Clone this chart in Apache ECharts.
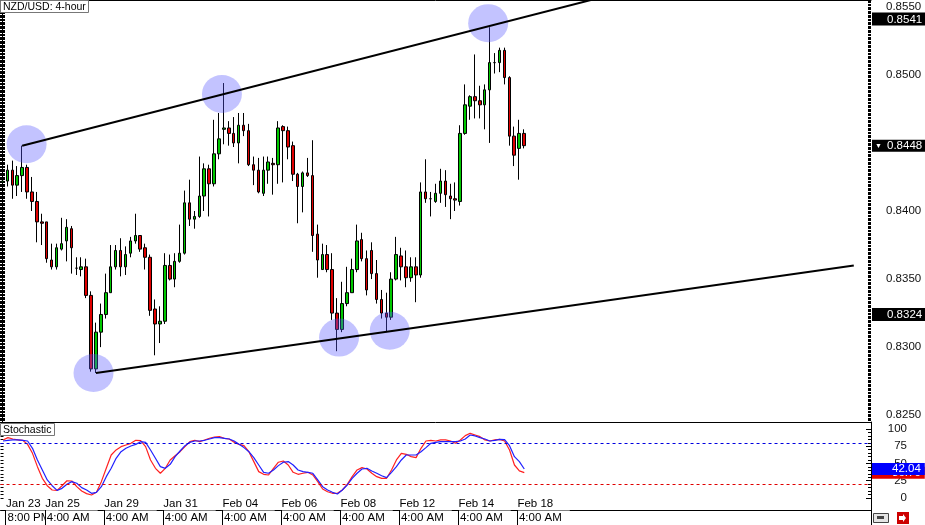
<!DOCTYPE html>
<html><head><meta charset="utf-8">
<script src="https://cdn.jsdelivr.net/npm/echarts@6/dist/echarts.min.js"></script>
<style>html,body{margin:0;padding:0;background:#fff}#c{width:925px;height:525px}</style>
</head><body><div id="c"></div>
<script>
// ---- candle data (NZD/USD 4-hour) ----
const open  = [0.8421,0.8422,0.8430,0.8419,0.8426,0.8432,0.8414,0.8407,0.8392,0.8392,0.8364,0.8359,0.8372,0.8378,0.8387,0.8358,0.8357,0.8359,0.8338,0.8284,0.8311,0.8324,0.8340,0.8359,0.8371,0.8359,0.8369,0.8378,0.8382,0.8373,0.8366,0.8328,0.8317,0.8319,0.8360,0.8350,0.8363,0.8369,0.8406,0.8394,0.8396,0.8411,0.8431,0.8420,0.8442,0.8460,0.8461,0.8457,0.8450,0.8463,0.8459,0.8434,0.8430,0.8413,0.8430,0.8435,0.8434,0.8462,0.8459,0.8448,0.8427,0.8418,0.8428,0.8426,0.8383,0.8357,0.8368,0.8357,0.8325,0.8313,0.8332,0.8340,0.8357,0.8379,0.8365,0.8371,0.8354,0.8335,0.8325,0.8322,0.8350,0.8367,0.8359,0.8351,0.8359,0.8353,0.8414,0.8409,0.8407,0.8413,0.8422,0.8411,0.8409,0.8407,0.8457,0.8477,0.8484,0.8481,0.8478,0.8489,0.8509,0.8509,0.8518,0.8498,0.8455,0.8446,0.8457];
const close = [0.8422,0.8430,0.8419,0.8426,0.8432,0.8414,0.8407,0.8392,0.8391,0.8365,0.8359,0.8373,0.8376,0.8388,0.8373,0.8358,0.8359,0.8338,0.8284,0.8311,0.8324,0.8340,0.8359,0.8371,0.8359,0.8368,0.8378,0.8382,0.8372,0.8366,0.8327,0.8317,0.8319,0.8360,0.8350,0.8363,0.8369,0.8406,0.8394,0.8396,0.8411,0.8431,0.8420,0.8442,0.8453,0.8461,0.8457,0.8450,0.8463,0.8459,0.8434,0.8430,0.8414,0.8430,0.8436,0.8434,0.8461,0.8459,0.8447,0.8427,0.8418,0.8428,0.8426,0.8382,0.8364,0.8368,0.8357,0.8325,0.8313,0.8332,0.8340,0.8357,0.8378,0.8365,0.8342,0.8354,0.8335,0.8325,0.8322,0.8350,0.8368,0.8359,0.8351,0.8359,0.8353,0.8414,0.8409,0.8409,0.8413,0.8422,0.8412,0.8409,0.8408,0.8457,0.8478,0.8484,0.8481,0.8478,0.8489,0.8509,0.8509,0.8518,0.8498,0.8455,0.8441,0.8457,0.8448];
const low   = [0.8418,0.8418,0.8409,0.8411,0.8414,0.8409,0.8400,0.8377,0.8375,0.8362,0.8357,0.8357,0.8371,0.8363,0.8354,0.8353,0.8352,0.8336,0.8282,0.8281,0.8300,0.8321,0.8340,0.8357,0.8352,0.8353,0.8366,0.8376,0.8370,0.8357,0.8323,0.8294,0.8303,0.8317,0.8349,0.8344,0.8362,0.8368,0.8389,0.8387,0.8395,0.8400,0.8396,0.8418,0.8438,0.8449,0.8448,0.8447,0.8435,0.8455,0.8433,0.8419,0.8413,0.8411,0.8420,0.8412,0.8420,0.8421,0.8438,0.8422,0.8391,0.8399,0.8425,0.8370,0.8351,0.8357,0.8355,0.8320,0.8297,0.8311,0.8330,0.8340,0.8355,0.8363,0.8338,0.8350,0.8332,0.8321,0.8311,0.8320,0.8349,0.8349,0.8344,0.8348,0.8333,0.8351,0.8406,0.8396,0.8406,0.8406,0.8403,0.8394,0.8400,0.8404,0.8456,0.8467,0.8468,0.8468,0.8460,0.8450,0.8501,0.8502,0.8493,0.8448,0.8433,0.8423,0.8446];
const high  = [0.8441,0.8434,0.8437,0.8433,0.8448,0.8434,0.8425,0.8414,0.8398,0.8392,0.8376,0.8376,0.8395,0.8394,0.8389,0.8366,0.8366,0.8365,0.8341,0.8318,0.8332,0.8354,0.8375,0.8375,0.8380,0.8374,0.8381,0.8398,0.8382,0.8376,0.8368,0.8335,0.8330,0.8369,0.8368,0.8369,0.8390,0.8415,0.8423,0.8400,0.8440,0.8435,0.8434,0.8467,0.8472,0.8494,0.8466,0.8469,0.8472,0.8472,0.8464,0.8440,0.8439,0.8440,0.8440,0.8439,0.8466,0.8463,0.8462,0.8451,0.8428,0.8429,0.8439,0.8452,0.8390,0.8376,0.8375,0.8369,0.8336,0.8348,0.8359,0.8365,0.8390,0.8384,0.8371,0.8377,0.8364,0.8342,0.8340,0.8355,0.8381,0.8373,0.8371,0.8366,0.8366,0.8421,0.8438,0.8414,0.8420,0.8431,0.8430,0.8420,0.8421,0.8463,0.8493,0.8485,0.8515,0.8492,0.8493,0.8535,0.8516,0.8520,0.8520,0.8499,0.8462,0.8467,0.8460];

// ---- stochastic ----
const stochMain = [84.1,87.4,85.5,84.1,83.6,77.7,64.7,45.4,28.5,17.8,11.6,11.1,17.8,25,24.6,16.4,10.1,6.3,4.3,8.2,23.7,43,62.3,69.6,74.4,76.8,79.2,83.6,83.1,74.4,55.1,43,35.8,43,55.1,61.3,67.1,74.4,81.6,83.6,81.6,84.1,86.5,88.4,88.9,86.5,85.5,80.6,77.7,75.8,67.1,52.7,38.2,34.3,33.3,43,51.8,53.6,47.8,37.2,34.3,35.8,37.2,33.3,23.7,13,9.1,6.8,6.8,11.6,19.8,30.9,40.6,44,42,35.8,30.9,28.5,28.5,40.6,55.1,64.7,63.3,59.9,58.5,72,82.6,83.6,82.6,84.1,84.1,82.6,79.2,84.1,90.4,93.7,91.3,88.9,84.1,82.6,84.1,85,82.6,69.6,47.8,39.2,36.7];
const stochSignal = [82.6,83.6,84.1,84.1,83.6,82.6,72,55.1,40.6,26.1,17.8,11.1,14,19.8,23.7,21.3,15,11.6,6.8,8.2,16.4,30.9,43,57.5,67.1,72,75.3,77.7,81.6,80.6,69.6,57.5,45.4,43,48.8,59.9,68.1,75.8,80.6,82.6,82.6,83.6,85.5,87.4,87.4,86.5,85.5,82.6,77.7,73,67.1,58.5,47.8,37.2,35.8,40.6,46.9,51.8,52.7,47.8,40.6,38.2,37.2,35.8,26.1,16.4,11.6,8.2,5.8,11.6,18.8,28.5,35.8,42,43,39.2,35.8,32.3,29.5,37.2,45.4,55.1,62.3,62.3,62.3,67.1,73,79.2,80.6,81.6,81.6,81.6,81.6,82.6,85.5,91.3,89.9,87.4,85.5,82.6,83.6,85,84.6,75.8,59.9,52.7,42.04];
const stochLevels = [80, 20];

// ---- axis text ----
const labelBars  = [0, 8, 20, 32, 44, 56, 68, 80, 92, 104];
const labelDates = ['Jan 23','Jan 25','Jan 29','Jan 31','Feb 04','Feb 06','Feb 08','Feb 12','Feb 14','Feb 18'];
const labelTimes = ['8:00 PM','4:00 AM','4:00 AM','4:00 AM','4:00 AM','4:00 AM','4:00 AM','4:00 AM','4:00 AM','4:00 AM'];
const priceTicks = [0.8250,0.8300,0.8350,0.8400,0.8450,0.8500,0.8550];
const priceLabels = [0.8250,0.8300,0.8350,0.8400,0.8500,0.8550];
const priceTags  = [0.8541, 0.8448, 0.8324];
const stochTicks = [0,25,50,75,100];

// ---- annotations (trend lines / highlighted swing points) ----
const upperTrend = [[4, 0.8448], [125, 0.8560]];
const lowerTrend = [[19, 0.8281], [173, 0.8360]];
const swingBar   = [4.9, 44.6, 98.7, 18.5, 68.4, 78.7];
const swingPrice = [0.8449, 0.8486, 0.8538, 0.8281, 0.8307, 0.8312];

const N = 177;
const cats = Array.from({length: N}, (_, i) => String(i));
const minorPrice = []; for (let k = 8245; k <= 8555; k++) minorPrice.push(k / 10000);
const minorStoch = []; for (let k = 0; k <= 100; k += 5) minorStoch.push(k);
const FONT = "'Liberation Sans', Arial, sans-serif";
const FS = 11.5;
const isLabel = (i) => labelBars.indexOf(i) >= 0;
const isSep = (i) => labelBars.indexOf(i - 1) >= 0;
const NOLINE = {color:'rgba(0,0,0,0)', width:0};

const hiddenAxis = {axisLine:{show:false,onZero:false}, axisTick:{show:false}, axisLabel:{show:false}, splitLine:{show:false}};

const tagLabel = (bg, fmt, pad) => ({show:true, position:'end', distance:1, backgroundColor:bg, color:'#fff',
  fontFamily:FONT, fontSize:FS, lineHeight:12, padding:pad, formatter:fmt,
  rich:{t:{fontSize:7, width:12, color:'#fff', lineHeight:12}, v:{fontSize:FS, color:'#fff', fontFamily:FONT, lineHeight:12}}});

const timeAxis = (filter, z) => ({type:'category', gridIndex:1, data:cats, position:'bottom', z:z,
  axisLine:{show:false,onZero:false}, axisTick:{show:false}, splitLine:{show:false},
  axisLabel:{show:true, margin:1, interval:filter, align:'left',
    formatter:(v)=>'{s| }{t|'+labelTimes[labelBars.indexOf(Number(v))]+'}',
    rich:{s:{width:2.5, fontSize:FS}, t:{backgroundColor:'#fff', padding:[1,8,1,2], fontFamily:FONT, fontSize:FS, color:'#000', lineHeight:13}}}});

const chart = echarts.init(document.getElementById('c'), null, {renderer:'canvas'});
chart.setOption({
  animation:false,
  backgroundColor:'#fff',
  title:[
    {text:'NZD/USD: 4-hour', left:0, top:0, padding:[1,3,0,3], backgroundColor:'#fff', borderColor:'#777', borderWidth:1,
     textStyle:{fontFamily:FONT, fontSize:10.5, fontWeight:'normal', color:'#000', lineHeight:12}},
    {text:'Stochastic', left:0, top:423, padding:[1,3,0,3], backgroundColor:'#fff', borderColor:'#777', borderWidth:1,
     textStyle:{fontFamily:FONT, fontSize:10.5, fontWeight:'normal', color:'#000', lineHeight:12}}
  ],
  grid:[
    {left:-1, top:0, width:872, height:422},
    {left:-1, top:422, width:872, height:88}
  ],
  xAxis:[
    {type:'category', gridIndex:0, data:cats, position:'bottom',
     axisLine:{show:true,onZero:false,lineStyle:{color:'#000',width:1}}, axisTick:{show:false}, axisLabel:{show:false}, splitLine:{show:false}},
    Object.assign({type:'value', gridIndex:0, position:'top', min:-0.5, max:N-0.5}, hiddenAxis,
     {axisLine:{show:true,onZero:false,lineStyle:{color:'#000',width:1}}}),
    {type:'category', gridIndex:1, data:cats, position:'bottom',
     axisLine:{show:true,onZero:false,lineStyle:{color:'#000',width:1}}, axisTick:{show:false}, splitLine:{show:false},
     axisLabel:{show:true, inside:true, margin:0, interval:(i)=>isLabel(i), align:'left', padding:[0,0,0,3],
       fontFamily:FONT, fontSize:FS, color:'#000', lineHeight:12,
       formatter:(v)=>labelDates[labelBars.indexOf(Number(v))]}},
    timeAxis((i)=>i===labelBars[0], 1),
    timeAxis((i)=>isLabel(i) && i!==labelBars[0], 2),
    {type:'category', gridIndex:1, data:cats, position:'bottom', z:6,
     axisLine:{show:false,onZero:false}, splitLine:{show:false}, axisLabel:{show:false},
     axisTick:{show:true, inside:false, length:15, interval:(i)=>isSep(i), lineStyle:{color:'#000',width:1}}}
  ],
  yAxis:[
    {type:'value', gridIndex:0, position:'right', min:0.8245, max:0.8555, scale:true,
     axisLine:{show:true,lineStyle:{color:'#000',width:1}}, splitLine:{show:false},
     axisTick:{show:true, inside:true, length:6, customValues:priceTicks, lineStyle:{color:'#000'}},
     axisLabel:{show:true, margin:15, customValues:priceLabels, formatter:(v)=>v.toFixed(4), fontFamily:FONT, fontSize:FS, color:'#111'}},
    Object.assign({type:'value', gridIndex:0, position:'right', min:0.8245, max:0.8555, scale:true}, hiddenAxis,
     {axisTick:{show:true, inside:true, length:3, customValues:minorPrice, lineStyle:{color:'#000'}}}),
    Object.assign({type:'value', gridIndex:0, position:'left', min:0.8245, max:0.8555, scale:true}, hiddenAxis,
     {axisTick:{show:true, inside:true, length:5, customValues:minorPrice, lineStyle:{color:'#000'}}}),
    {type:'value', gridIndex:1, position:'right', min:-17.4, max:110.1,
     axisLine:{show:true,lineStyle:{color:'#000',width:1}}, splitLine:{show:false},
     axisTick:{show:true, inside:true, length:5, customValues:stochTicks, lineStyle:{color:'#000'}},
     axisLabel:{show:true, margin:36, align:'right', customValues:stochTicks, fontFamily:FONT, fontSize:FS, color:'#111'}},
    Object.assign({type:'value', gridIndex:1, position:'right', min:-17.4, max:110.1}, hiddenAxis,
     {axisTick:{show:true, inside:true, length:3, customValues:minorStoch, lineStyle:{color:'#000'}}}),
    Object.assign({type:'value', gridIndex:1, position:'left', min:-17.4, max:110.1}, hiddenAxis,
     {axisTick:{show:true, inside:true, length:3, customValues:minorStoch, lineStyle:{color:'#000'}}})
  ],
  series:[
    {type:'candlestick', xAxisIndex:0, yAxisIndex:0, barWidth:3,
     data: open.map((o,i)=>[o, close[i], low[i], high[i]]),
     itemStyle:{color:'#00c800', color0:'#e00000', borderColor:'#000', borderColor0:'#000', borderColorDoji:'#000', borderWidth:1},
     markLine:{silent:true, symbol:'none', animation:false, precision:4,
       lineStyle:NOLINE,
       data: priceTags.map((p,k)=>({yAxis:p, lineStyle:NOLINE,
         label: k===1 ? tagLabel('#000', ()=>'{t|▼}{v|'+p.toFixed(4)+'}', [0,3,0,3])
                      : tagLabel('#000', ()=>p.toFixed(4), [1,3,0,15])}))}},
    {type:'line', xAxisIndex:1, yAxisIndex:0, data:upperTrend, symbol:'none', clip:true,
     lineStyle:{color:'#000', width:2}},
    {type:'line', xAxisIndex:1, yAxisIndex:0, data:lowerTrend, symbol:'none', clip:true,
     lineStyle:{color:'#000', width:2}},
    {type:'scatter', xAxisIndex:1, yAxisIndex:0, symbol:'circle', symbolSize:[40,38],
     data: swingBar.map((b,k)=>[b, swingPrice[k]]),
     itemStyle:{color:'rgba(90,90,255,0.45)'}},
    {type:'line', xAxisIndex:2, yAxisIndex:3, data:stochMain, symbol:'none',
     lineStyle:{color:'#ff2020', width:1.2},
     markLine:{silent:true, symbol:'none', animation:false, precision:2,
       data:[
         {yAxis:stochLevels[1], lineStyle:{color:'#e00000', type:[3,3], width:1}, label:{show:false}},
         {yAxis:stochMain[stochMain.length-1], lineStyle:NOLINE,
          label: tagLabel('#e00000', ()=>stochMain[stochMain.length-1].toFixed(2), [0,4,0,20])}
       ]}},
    {type:'line', xAxisIndex:2, yAxisIndex:3, data:stochSignal, symbol:'none',
     lineStyle:{color:'#2020ff', width:1.2},
     markLine:{silent:true, symbol:'none', animation:false, precision:2,
       data:[
         {yAxis:stochLevels[0], lineStyle:{color:'#0000e0', type:[3,3], width:1}, label:{show:false}},
         {yAxis:stochSignal[stochSignal.length-1], lineStyle:NOLINE,
          label: tagLabel('#0000ff', ()=>stochSignal[stochSignal.length-1].toFixed(2), [0,4,0,20])}
       ]}}
  ],
  graphic:[
    {type:'rect', left:873, top:513, shape:{width:15, height:9}, style:{fill:'#e4e4e4', stroke:'#444', lineWidth:1}},
    {type:'rect', left:877, top:516, shape:{width:7, height:3}, style:{fill:'#444'}},
    {type:'rect', left:897, top:512, shape:{width:12, height:12}, style:{fill:'#cc0000'}},
    {type:'polygon', shape:{points:[[899,516],[903,516],[903,514],[906,518],[903,522],[903,520],[899,520]]}, style:{fill:'#fff'}}
  ]
});
</script></body></html>
